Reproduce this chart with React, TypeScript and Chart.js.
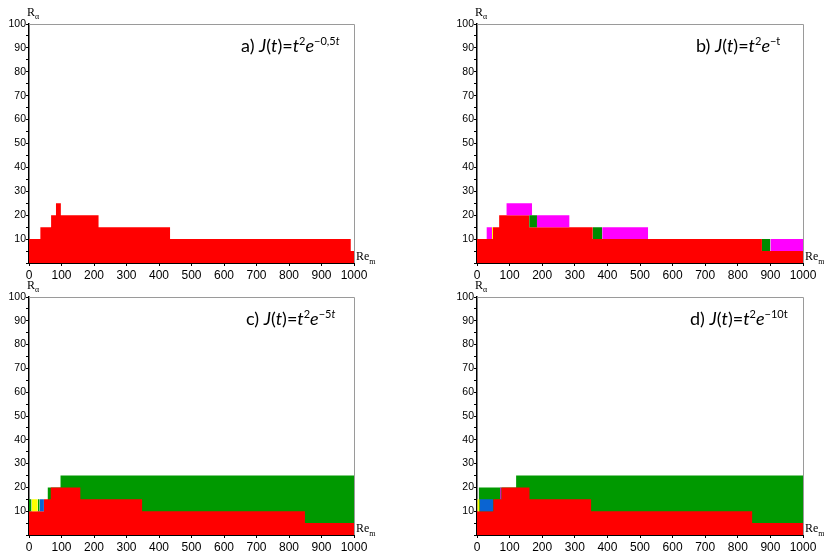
import React, { useEffect, useRef } from 'react';
import { Chart, registerables } from 'chart.js';

Chart.register(...registerables);

// ---------- data ----------
const xTickLabels = [0, 100, 200, 300, 400, 500, 600, 700, 800, 900, 1000];
const yTickLabels = [10, 20, 30, 40, 50, 60, 70, 80, 90, 100];

// panel a: J(t)=t^2 e^{-0,5t}
const aRedX = [0, 35, 68, 83, 98, 214, 434, 990, 1000];
const aRedY = [10, 15, 20, 25, 20, 15, 10, 5, 5];

// panel b: J(t)=t^2 e^{-t}
const bRedX = [0, 49, 68, 160, 355, 874, 1000];
const bRedY = [10, 15, 20, 15, 10, 5, 5];
const bMagenta = [[29, 46, 10, 15], [90, 169, 20, 25], [184, 284, 15, 20], [384, 525, 10, 15], [900, 1000, 5, 10]];
const bGreen = [[160, 184, 15, 20], [355, 384, 10, 15], [874, 900, 5, 10]];
const bYellow = [[46, 49, 10, 15]];

// panel c: J(t)=t^2 e^{-5t}
const cGreenX = [57, 97, 1000];
const cGreenY = [20, 25, 25];
const cRedX = [0, 46, 67, 158, 348, 849, 1000];
const cRedY = [10, 15, 20, 15, 10, 5, 5];
const cGreenSmall = [[0, 8, 10, 15], [27, 33, 10, 15]];
const cYellow = [[8, 27, 10, 15]];
const cBlue = [[33, 46, 10, 15]];

// panel d: J(t)=t^2 e^{-10t}
const dGreenX = [5, 120, 1000];
const dGreenY = [20, 25, 25];
const dRedX = [0, 50, 75, 161, 350, 844, 1000];
const dRedY = [10, 15, 20, 15, 10, 5, 5];
const dYellow = [[1, 8, 10, 15]];
const dBlue = [[8, 50, 10, 15]];
const dMagenta = [[71, 75, 15, 20]];

// titles
const titleA = [['a) '], ['J', 'i'], ['('], ['t', 'i'], [')=' ], ['t', 'i'], ['2', 's'], ['e', 'i'], ['\u22120,5', 's'], ['t', 'si']];
const titleB = [['b) '], ['J', 'i'], ['('], ['t', 'i'], [')=' ], ['t', 'i'], ['2', 's'], ['e', 'i'], ['\u2212t', 's']];
const titleC = [['c) '], ['J', 'i'], ['('], ['t', 'i'], [')=' ], ['t', 'i'], ['2', 's'], ['e', 'i'], ['\u22125', 's'], ['t', 'si']];
const titleD = [['d) '], ['J', 'i'], ['('], ['t', 'i'], [')=' ], ['t', 'i'], ['2', 's'], ['e', 'i'], ['\u221210t', 's']];

// ---------- colours ----------
const RED = '#FF0000';
const GREEN = '#009900';
const GREEN_B = '#008A00';
const MAGENTA = '#FF00FF';
const YELLOW = '#FFFF00';
const BLUE = '#0A64D2';

type Rect = number[];

function stepDs(xs: number[], ys: number[], color: string) {
  return {
    data: xs.map((x, i) => ({ x, y: ys[i] })),
    stepped: 'before',
    fill: 'origin',
    backgroundColor: color,
    borderColor: color,
    borderWidth: 0,
    pointRadius: 0,
  };
}
function rectDs(r: Rect, color: string) {
  return {
    data: [{ x: r[0], y: r[3] }, { x: r[1], y: r[3] }],
    fill: { value: r[2] },
    backgroundColor: color,
    borderColor: color,
    borderWidth: 0,
    pointRadius: 0,
  };
}

const panels = [
  {
    left: 0, top: 0, w: 412, h: 292,
    plot: { l: 29, r: 354, t: 24, b: 263 },
    title: titleA, titleX: 241,
    layers: [stepDs(aRedX, aRedY, RED)],
  },
  {
    left: 412, top: 0, w: 412, h: 292,
    plot: { l: 477, r: 803, t: 24, b: 263 },
    title: titleB, titleX: 696,
    layers: [
      stepDs(bRedX, bRedY, RED),
      ...bMagenta.map((r) => rectDs(r, MAGENTA)),
      ...bGreen.map((r) => rectDs(r, GREEN_B)),
      ...bYellow.map((r) => rectDs(r, YELLOW)),
    ],
  },
  {
    left: 0, top: 273, w: 412, h: 278,
    plot: { l: 29, r: 354, t: 297, b: 535 },
    title: titleC, titleX: 246,
    layers: [
      stepDs(cGreenX, cGreenY, GREEN),
      stepDs(cRedX, cRedY, RED),
      ...cGreenSmall.map((r) => rectDs(r, GREEN)),
      ...cYellow.map((r) => rectDs(r, YELLOW)),
      ...cBlue.map((r) => rectDs(r, BLUE)),
    ],
  },
  {
    left: 412, top: 273, w: 412, h: 278,
    plot: { l: 477, r: 803, t: 297, b: 535 },
    title: titleD, titleX: 690,
    layers: [
      stepDs(dGreenX, dGreenY, GREEN),
      stepDs(dRedX, dRedY, RED),
      ...dYellow.map((r) => rectDs(r, YELLOW)),
      ...dBlue.map((r) => rectDs(r, BLUE)),
      ...dMagenta.map((r) => rectDs(r, MAGENTA)),
    ],
  },
];

const TITLE_FONT = 'Lato, "Open Sans", sans-serif';

function drawRuns(ctx: CanvasRenderingContext2D, x: number, y: number, runs: string[][]) {
  let cx = x;
  for (const run of runs) {
    const text = run[0];
    const flags = run[1] || '';
    const sup = flags.includes('s');
    const it = flags.includes('i');
    const size = sup ? 11 : 18;
    ctx.font = `${it ? 'italic ' : ''}${size}px ${TITLE_FONT}`;
    ctx.fillText(text, cx, sup ? y - 7 : y);
    cx += ctx.measureText(text).width;
  }
}

function makeConfig(p: any) {
  const yW = p.plot.l - p.left;
  const padRight = p.left + p.w - p.plot.r;
  const padTop = p.plot.t - p.top;
  const xH = 16;
  const padBottom = p.top + p.h - p.plot.b - xH;
  const n = p.layers.length;
  const datasets = p.layers.map((d: any, i: number) => ({ ...d, order: n - i }));

  const decor = {
    id: 'decor',
    afterDraw(chart: any) {
      const ctx = chart.ctx as CanvasRenderingContext2D;
      const a = chart.chartArea;
      ctx.save();
      // gray frame top and right
      ctx.strokeStyle = '#9a9a9a';
      ctx.lineWidth = 1;
      ctx.beginPath();
      ctx.moveTo(a.left, a.top + 0.5);
      ctx.lineTo(a.right + 0.5, a.top + 0.5);
      ctx.lineTo(a.right + 0.5, a.bottom);
      ctx.stroke();
      // axis names
      ctx.fillStyle = '#000';
      ctx.textBaseline = 'alphabetic';
      ctx.textAlign = 'left';
      ctx.font = '12px "Liberation Serif", serif';
      ctx.fillText('R', a.left - 2, a.top - 8);
      const rw = ctx.measureText('R').width;
      ctx.font = '8px "Liberation Serif", serif';
      ctx.fillText('\u03B1', a.left - 2 + rw, a.top - 5);
      ctx.font = '12px "Liberation Serif", serif';
      ctx.fillText('Re', a.right + 2, a.bottom - 3);
      const ew = ctx.measureText('Re').width;
      ctx.font = '8px "Liberation Serif", serif';
      ctx.fillText('m', a.right + 2 + ew, a.bottom + 1);
      // title
      drawRuns(ctx, p.titleX - p.left, a.top + 27.5, p.title);
      ctx.restore();
    },
  };

  return {
    type: 'line',
    data: { datasets },
    options: {
      responsive: false,
      animation: false,
      events: [],
      layout: { padding: { left: 0, right: padRight, top: padTop, bottom: padBottom } },
      plugins: { legend: { display: false }, tooltip: { enabled: false }, title: { display: false } },
      scales: {
        x: {
          type: 'linear',
          min: 0,
          max: 1000,
          z: 1,
          afterFit: (s: any) => { s.height = xH; },
          afterBuildTicks: (s: any) => { s.ticks = xTickLabels.map((v) => ({ value: v })); },
          ticks: {
            autoSkip: false,
            maxRotation: 0,
            padding: 2,
            color: '#000',
            font: { family: '"Liberation Sans", Arial, sans-serif', size: 12 },
            callback: (v: number) => String(v),
          },
          grid: { drawOnChartArea: false, drawTicks: true, tickLength: 3, color: '#000' },
          border: { display: true, color: '#000', width: 1 },
        },
        y: {
          type: 'linear',
          min: 0,
          max: 100,
          z: 1,
          afterFit: (s: any) => { s.width = yW; },
          ticks: {
            stepSize: 5,
            autoSkip: false,
            padding: 0,
            color: '#000',
            font: { family: '"Liberation Sans", Arial, sans-serif', size: 10.5 },
            callback: (v: number) => (yTickLabels.includes(v) ? String(v) : ''),
          },
          grid: { drawOnChartArea: false, drawTicks: true, tickLength: 3, color: '#000' },
          border: { display: true, color: '#000', width: 1.5 },
        },
      },
    },
    plugins: [decor],
  };
}

function Panel({ p }: { p: any }) {
  const ref = useRef<HTMLCanvasElement | null>(null);
  useEffect(() => {
    const chart = new Chart(ref.current as HTMLCanvasElement, makeConfig(p) as any);
    return () => chart.destroy();
  }, []);
  return (
    <canvas
      ref={ref}
      width={p.w}
      height={p.h}
      style={{ position: 'absolute', left: p.left, top: p.top, width: p.w, height: p.h }}
    />
  );
}

export default function App() {
  return (
    <div style={{ position: 'absolute', left: 0, top: 0, width: 824, height: 551, background: '#fff', overflow: 'hidden' }}>
      {panels.map((p, i) => (
        <Panel key={i} p={p} />
      ))}
    </div>
  );
}
